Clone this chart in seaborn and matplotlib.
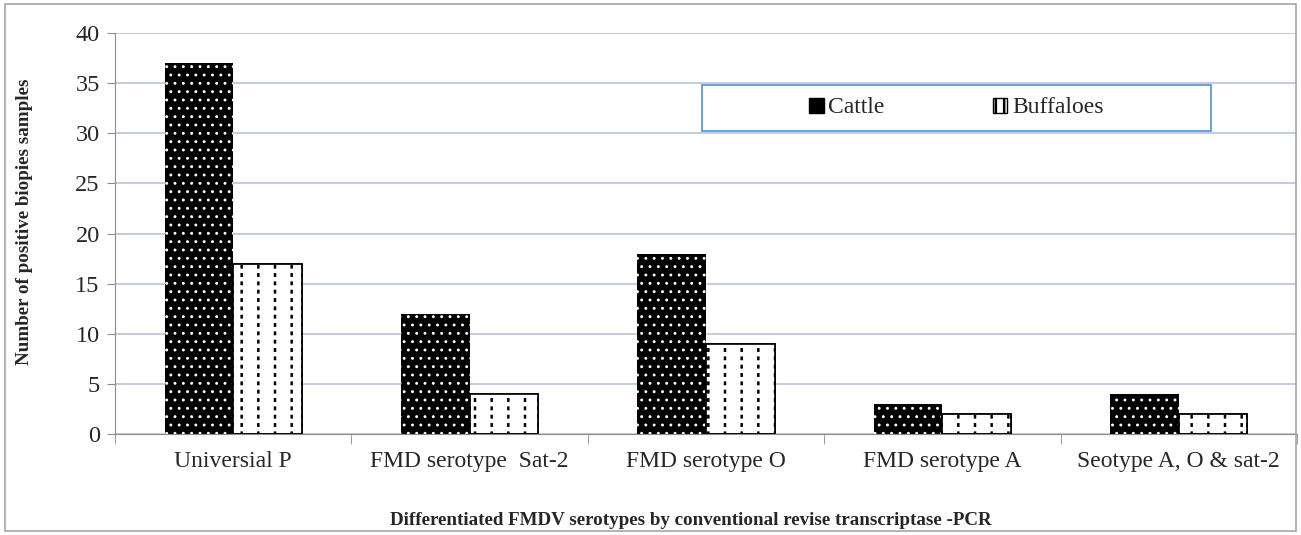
import seaborn as sns
import matplotlib.pyplot as plt
import matplotlib.patches as mpatches
import pandas as pd

categories = ['Universial P', 'FMD serotype  Sat-2', 'FMD serotype O',
              'FMD serotype A', 'Seotype A, O & sat-2']
cattle = [37, 12, 18, 3, 4]
buffaloes = [17, 4, 9, 2, 2]
y_ticks = [0, 5, 10, 15, 20, 25, 30, 35, 40]

df = pd.DataFrame({
    'category': categories * 2,
    'count': cattle + buffaloes,
    'animal': ['Cattle'] * len(categories) + ['Buffaloes'] * len(categories),
})

sns.set_style('white')
plt.rcParams['font.family'] = ['Liberation Serif', 'DejaVu Serif']
plt.rcParams['hatch.linewidth'] = 1.8

fig = plt.figure(figsize=(13.01, 5.35), dpi=100)
ax = fig.add_axes([115 / 1301, 1 - 434 / 535, 1182 / 1301, 401 / 535])

sns.barplot(data=df, x='category', y='count', hue='animal',
            palette={'Cattle': 'black', 'Buffaloes': 'white'},
            width=0.58, edgecolor='black', linewidth=1.2, ax=ax, legend=False)


def set_hatch_lw(patch, lw):
    if hasattr(patch, 'set_hatch_linewidth'):
        patch.set_hatch_linewidth(lw)


# cattle: black with white dots
for bar in ax.containers[0]:
    bar.set_hatch('..')
    bar.set_edgecolor('white')
    bar.set_linewidth(0)
    set_hatch_lw(bar, 0.9)


def dash_cut(patch):
    # white horizontal hatch over the vertical lines -> dashed look, then outline again
    cut = mpatches.Rectangle(patch.get_xy(), patch.get_width(), patch.get_height(),
                             fill=False, hatch='--', edgecolor='white', linewidth=0,
                             zorder=patch.get_zorder() + 0.1)
    set_hatch_lw(cut, 3.2)
    edge = mpatches.Rectangle(patch.get_xy(), patch.get_width(), patch.get_height(),
                              fill=False, edgecolor='black', linewidth=1.2,
                              zorder=patch.get_zorder() + 0.2)
    return cut, edge


# buffaloes: white with vertical dashes
for bar in ax.containers[1]:
    bar.set_hatch('|')
    bar.set_edgecolor('black')
    cut, edge = dash_cut(bar)
    ax.add_patch(cut)
    ax.add_patch(edge)

ax.set_ylim(0, 40)
ax.set_xlim(-0.5, len(categories) - 0.5)
ax.set_yticks(y_ticks)
ax.yaxis.grid(True, color='#B7C3D9', linewidth=1.2)
ax.set_axisbelow(True)
for side in ['top', 'right']:
    ax.spines[side].set_visible(False)
for side in ['left', 'bottom']:
    ax.spines[side].set_color('#8C8C8C')

ax.tick_params(axis='y', labelsize=17.5, length=6, color='#8C8C8C', left=True, pad=5)
ax.tick_params(axis='x', labelsize=17, length=0, pad=12)
ax.set_xticks([i - 0.5 for i in range(len(categories) + 1)], minor=True)
ax.tick_params(axis='x', which='minor', length=7, color='#8C8C8C', bottom=True)

ax.set_xlabel('Differentiated FMDV serotypes by conventional revise transcriptase -PCR',
              fontsize=13.7, fontweight='bold')
ax.xaxis.set_label_coords((691 - 115) / 1182, -0.195)
ax.set_ylabel('Number of positive biopies samples', fontsize=13.7, fontweight='bold')
ax.yaxis.set_label_coords(-(115 - 33) / 1182, 0.53)

# legend with its own box
box = mpatches.Rectangle((0.497, 0.756), 0.43, 0.114, transform=ax.transAxes,
                         facecolor='white', edgecolor='#5B9BD5', linewidth=1.3, zorder=3)
ax.add_patch(box)
handles = [mpatches.Patch(facecolor='black', edgecolor='black', label='Cattle'),
           mpatches.Patch(facecolor='white', edgecolor='black', hatch='||', label='Buffaloes')]
leg = ax.legend(handles=handles, loc='center', bbox_to_anchor=(0.712, 0.813), ncol=2,
                frameon=False, fontsize=17, handlelength=0.6, handleheight=0.6,
                handletextpad=0.2, columnspacing=4.6)
leg.set_zorder(4)

# outer chart frame
fig.patches.append(mpatches.Rectangle((5 / 1301, 4 / 535), 1291 / 1301, 527 / 535,
                                      transform=fig.transFigure, fill=False,
                                      edgecolor='#A6A6A6', linewidth=1.2))

fig.savefig('out.png', dpi=100)
